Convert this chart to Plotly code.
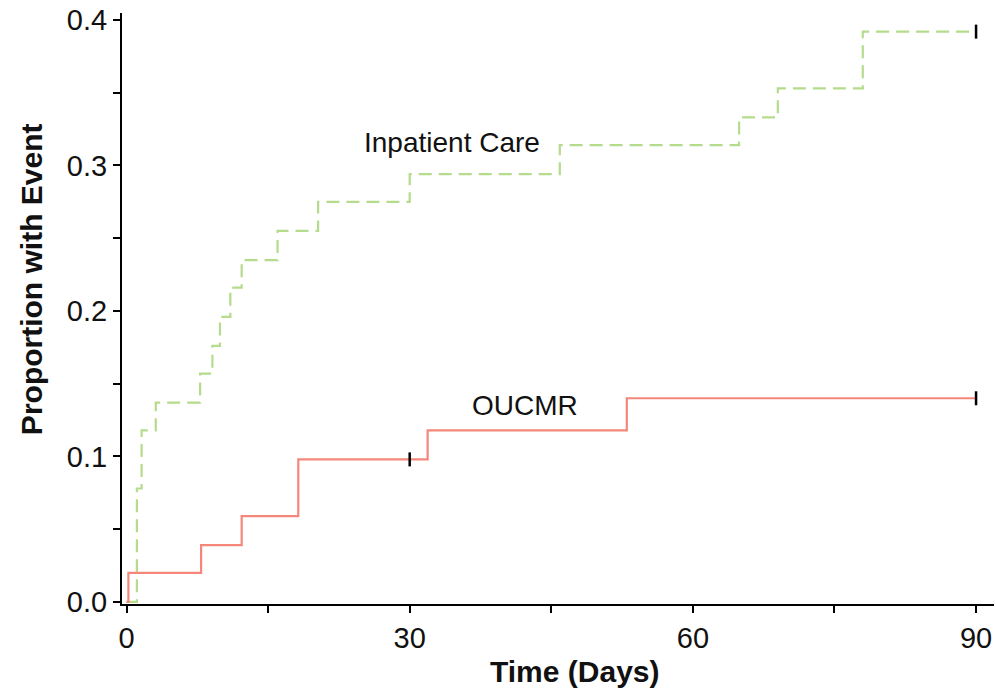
import plotly.graph_objects as go

# Inpatient Care (green dashed) step curve
inpatient_days = [0, 1.1, 1.6, 3.1, 7.8, 9.1, 9.9, 11.0, 12.2, 16.0, 20.3, 30.0, 45.9, 64.9, 69.0, 78.0, 90]
inpatient_prop = [0.0, 0.078, 0.118, 0.137, 0.157, 0.176, 0.196, 0.216, 0.235, 0.255, 0.275, 0.294, 0.314, 0.333, 0.353, 0.392, 0.392]

# OUCMR (red solid) step curve
oucmr_days = [0, 0.2, 7.9, 12.2, 18.2, 31.9, 53.0, 90]
oucmr_prop = [0.0, 0.020, 0.039, 0.059, 0.098, 0.118, 0.140, 0.140]

# censoring marks
censor_days = [30, 90, 90]
censor_prop = [0.098, 0.140, 0.392]

x_ticks = [0, 30, 60, 90]
y_ticks = [0.0, 0.1, 0.2, 0.3, 0.4]

FONT = "Liberation Sans, Arial, Helvetica, sans-serif"

fig = go.Figure()
fig.add_trace(go.Scatter(x=inpatient_days, y=inpatient_prop, mode="lines",
                         line=dict(shape="hv", color="#b5db8c", width=2.2, dash="13px,7px"),
                         hoverinfo="skip"))
fig.add_trace(go.Scatter(x=oucmr_days, y=oucmr_prop, mode="lines",
                         line=dict(shape="hv", color="#f5877a", width=2.2),
                         hoverinfo="skip"))
fig.add_trace(go.Scatter(x=censor_days, y=censor_prop, mode="markers",
                         marker=dict(symbol="line-ns", size=10,
                                     line=dict(color="black", width=2.5)),
                         hoverinfo="skip"))

fig.add_annotation(x=34.5, y=0.316, text="Inpatient Care", showarrow=False,
                   font=dict(family=FONT, size=28, color="#111111"))
fig.add_annotation(x=42.2, y=0.135, text="OUCMR", showarrow=False,
                   font=dict(family=FONT, size=28, color="#111111"))

fig.add_annotation(xref="paper", yref="paper", x=0.52, y=-0.115, text="<b>Time (Days)</b>",
                   showarrow=False, yanchor="middle",
                   font=dict(family=FONT, size=30, color="#111111"))
fig.add_annotation(xref="paper", yref="paper", x=-0.103, y=0.55, text="<b>Proportion with Event</b>",
                   showarrow=False, textangle=-90, xanchor="center", yanchor="middle",
                   font=dict(family=FONT, size=30, color="#111111"))

fig.update_layout(
    width=996, height=691,
    margin=dict(l=122, r=2, t=13, b=87),
    plot_bgcolor="white", paper_bgcolor="white",
    showlegend=False,
    font=dict(family=FONT, size=29, color="#111111"),
)
fig.update_xaxes(range=[-0.477, 91.9], tickvals=x_ticks, ticks="outside", ticklen=7, tickwidth=2,
                 tickcolor="black", showline=True, linecolor="black", linewidth=2,
                 showgrid=False, zeroline=False,
                 minor=dict(dtick=15, tick0=0, ticks="outside", ticklen=7, tickwidth=2, tickcolor="black", showgrid=False),
                 tickfont=dict(family=FONT, size=29))
fig.update_yaxes(range=[-0.0014, 0.4048], tickvals=y_ticks, tickformat=".1f", ticks="outside", ticklen=7,
                 tickwidth=2, tickcolor="black", showline=True, linecolor="black", linewidth=2,
                 showgrid=False, zeroline=False,
                 minor=dict(dtick=0.05, tick0=0, ticks="outside", ticklen=7, tickwidth=2, tickcolor="black", showgrid=False),
                 tickfont=dict(family=FONT, size=29))

fig.write_html("out.html")
